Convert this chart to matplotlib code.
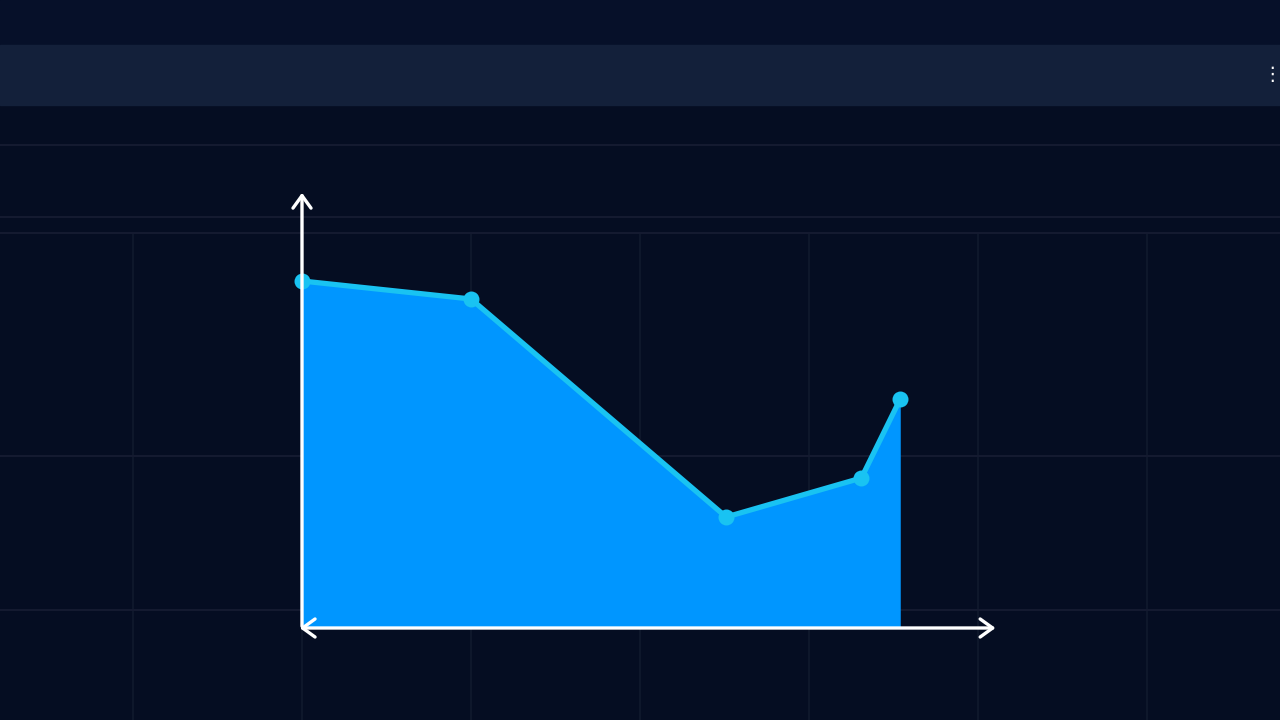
import matplotlib
matplotlib.use('Agg')

import matplotlib.pyplot as plt
import numpy as np

# series values (x in grid steps, y in arbitrary units above the x axis)
x_vals = [0.0, 1.0, 2.51, 3.31, 3.54]
y_vals = [347, 329, 111, 150, 229]

# faint grid positions
grid_x = [-1, 0, 1, 2, 3, 4, 5]
grid_y = [18, 172, 395, 411, 483]

bg = '#050d22'
fill_col = '#0096ff'
line_col = '#19c3f2'

fig = plt.figure(figsize=(12.8, 7.2), dpi=100, facecolor=bg)
ax = fig.add_axes([0, 0, 1, 1])
ax.set_facecolor(bg)
ax.set_xlim(-302 / 169, 978 / 169)
ax.set_ylim(-92, 628)
ax.axis('off')

# header band at top
ax.axhspan(583, 628, color='#061029', zorder=0)
ax.axhspan(523, 583, color='#13203a', zorder=0)

for gx in grid_x:
    ax.plot([gx, gx], [-92, 395], color='#101a2e', lw=1.2, zorder=1)
for gy in grid_y:
    ax.axhline(gy, color='#141a30', lw=1.5, zorder=1)

# area + line
ax.fill_between(x_vals, y_vals, 0, color=fill_col, lw=0, zorder=2)
ax.plot(x_vals, y_vals, color=line_col, lw=3.8, marker='o', markersize=11.5,
        markerfacecolor=line_col, markeredgewidth=0, zorder=3,
        solid_joinstyle='round')

# axes with arrows
ax.annotate('', xy=(0, 438), xytext=(0, -1),
            arrowprops=dict(arrowstyle='->,head_length=0.9,head_width=0.65',
                            color='white', lw=2.4), zorder=4)
ax.annotate('', xy=(-0.03, 0), xytext=(4.12, 0),
            arrowprops=dict(arrowstyle='<->,head_length=0.9,head_width=0.65',
                            color='white', lw=2.4), zorder=4)

# menu dots on the right of the header
ax.text(5.8, 553, '\u22ee', color='white', fontsize=14, ha='right', va='center',
        family='DejaVu Sans')

fig.savefig('out.png', dpi=100, facecolor=bg)
